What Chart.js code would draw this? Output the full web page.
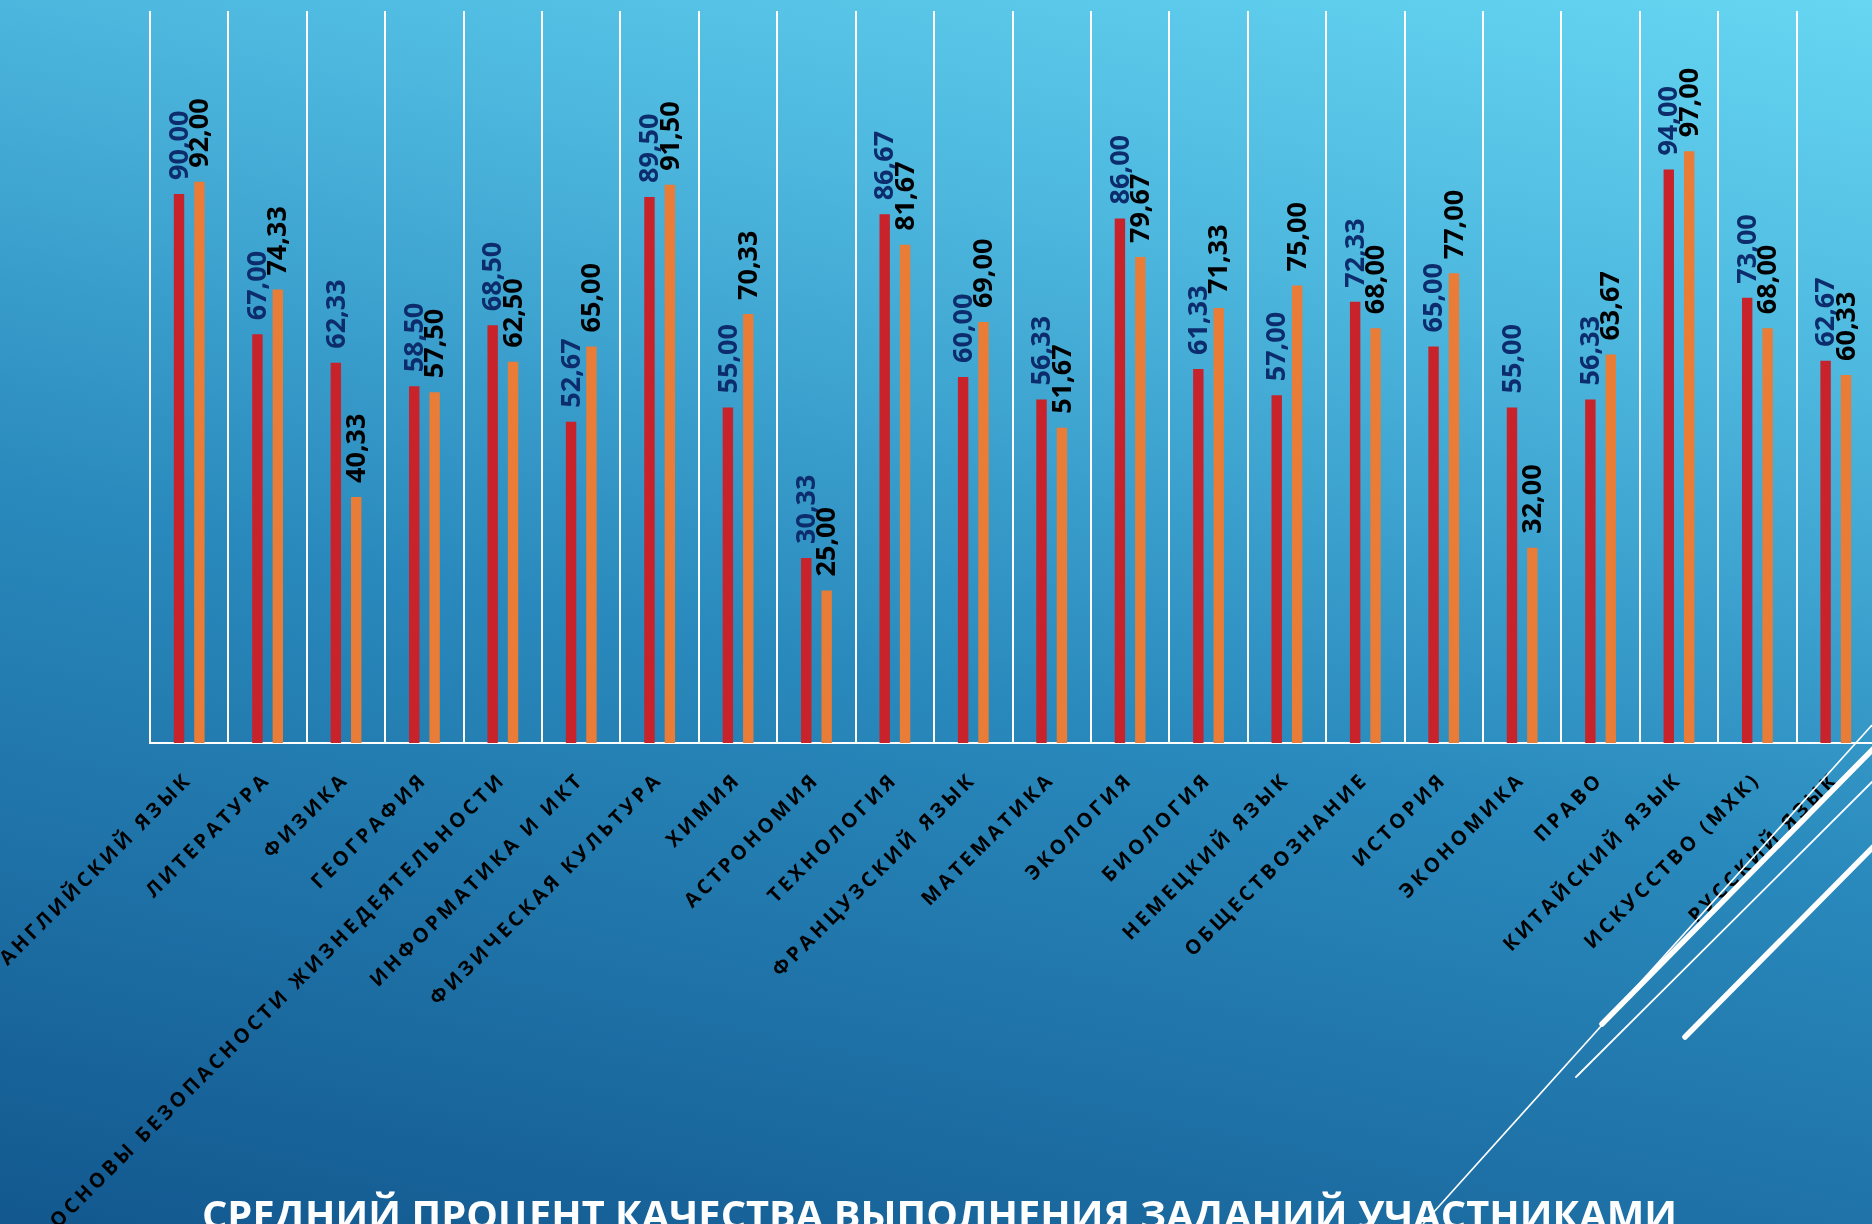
<!DOCTYPE html>
<html><head><meta charset="utf-8">
<script src="https://cdn.jsdelivr.net/npm/chart.js@4/dist/chart.umd.min.js"></script>
<style>
html,body{margin:0;padding:0;width:1872px;height:1224px;overflow:hidden;}
body{position:relative;background:linear-gradient(12deg,#12588f 0%,#2a8abd 46%,#4db7de 76%,#66d6f2 100%);}
#wrap{position:absolute;left:0;top:0;width:1880px;height:1224px;}
#deco{position:absolute;left:0;top:0;pointer-events:none;}
</style></head><body>
<div id="wrap"><canvas id="c" width="1880" height="1224"></canvas></div>
<svg id="deco" width="1872" height="1224" xmlns="http://www.w3.org/2000/svg">
  <text id="ttl" x="202" y="1229" textLength="1475" lengthAdjust="spacingAndGlyphs" font-family="Open Sans" font-weight="700" font-size="40" fill="#ffffff"></text>
  <line x1="1423" y1="1224" x2="1872" y2="725" stroke="#fff" stroke-width="1.6"/>
  <line x1="1576" y1="1077" x2="1872" y2="782" stroke="#fff" stroke-width="1.8" stroke-linecap="round"/>
  <line x1="1602" y1="1024" x2="1880" y2="742" stroke="#fff" stroke-width="5.5" stroke-linecap="round"/>
  <line x1="1685" y1="1037" x2="1880" y2="840" stroke="#fff" stroke-width="5.5" stroke-linecap="round"/>
</svg>
<script>
const titleText = 'СРЕДНИЙ ПРОЦЕНТ КАЧЕСТВА ВЫПОЛНЕНИЯ ЗАДАНИЙ УЧАСТНИКАМИ';
const categories = [
  'АНГЛИЙСКИЙ ЯЗЫК','ЛИТЕРАТУРА','ФИЗИКА','ГЕОГРАФИЯ',
  'ОСНОВЫ БЕЗОПАСНОСТИ ЖИЗНЕДЕЯТЕЛЬНОСТИ','ИНФОРМАТИКА И ИКТ','ФИЗИЧЕСКАЯ КУЛЬТУРА',
  'ХИМИЯ','АСТРОНОМИЯ','ТЕХНОЛОГИЯ','ФРАНЦУЗСКИЙ ЯЗЫК','МАТЕМАТИКА','ЭКОЛОГИЯ',
  'БИОЛОГИЯ','НЕМЕЦКИЙ ЯЗЫК','ОБЩЕСТВОЗНАНИЕ','ИСТОРИЯ','ЭКОНОМИКА','ПРАВО',
  'КИТАЙСКИЙ ЯЗЫК','ИСКУССТВО (МХК)','РУССКИЙ ЯЗЫК'
];
const seriesRed = [90.00,67.00,62.33,58.50,68.50,52.67,89.50,55.00,30.33,86.67,60.00,56.33,86.00,61.33,57.00,72.33,65.00,55.00,56.33,94.00,73.00,62.67];
const seriesOrange = [92.00,74.33,40.33,57.50,62.50,65.00,91.50,70.33,25.00,81.67,69.00,51.67,79.67,71.33,75.00,68.00,77.00,32.00,63.67,97.00,68.00,60.33];
const yMin = 0, yMax = 120;

document.getElementById('ttl').textContent = titleText;

const fmt = v => v.toFixed(2).replace('.', ',');

const labelStyles = [
  {color:'#0c2c6c', font:'700 27px "Open Sans"'},
  {color:'#000000', font:'700 27px "Open Sans"'}
];

const spacingPlugin = {
  id:'spacing',
  beforeDraw(chart){ chart.ctx.letterSpacing = '3.5px'; },
  afterDraw(chart){ chart.ctx.letterSpacing = '0px'; }
};

const valueLabels = {
  id:'valueLabels',
  afterDatasetsDraw(chart){
    const ctx = chart.ctx;
    chart.data.datasets.forEach((ds, di) => {
      const meta = chart.getDatasetMeta(di);
      meta.data.forEach((bar, i) => {
        ctx.save();
        ctx.letterSpacing = '0px';
        ctx.translate(bar.x + 1, bar.y - 14);
        ctx.rotate(-Math.PI/2);
        ctx.font = labelStyles[di].font;
        ctx.fillStyle = labelStyles[di].color;
        ctx.textAlign = 'left';
        ctx.textBaseline = 'middle';
        ctx.fillText(fmt(ds.data[i]), 0, 0);
        ctx.restore();
      });
    });
  }
};

new Chart(document.getElementById('c'), {
  type:'bar',
  data:{
    labels:categories,
    datasets:[
      {label:'Ряд 1', data:seriesRed, backgroundColor:'#c8222a', categoryPercentage:0.52, barPercentage:0.51},
      {label:'Ряд 2', data:seriesOrange, backgroundColor:'#e97c37', categoryPercentage:0.52, barPercentage:0.51}
    ]
  },
  options:{
    responsive:false,
    animation:false,
    layout:{padding:{left:150, top:11, right:5, bottom:0}},
    plugins:{legend:{display:false}, tooltip:{enabled:false}, title:{display:false}},
    scales:{
      x:{
        offset:true,
        grid:{color:'#ffffff', lineWidth:2, offset:true, drawTicks:false},
        border:{color:'#ffffff', width:2},
        ticks:{
          autoSkip:false, minRotation:45, maxRotation:45, padding:25,
          color:'#000000', font:{family:'Open Sans', size:20, weight:'700'}
        },
        afterFit(scale){ scale.height = 1224 - 743; }
      },
      y:{display:false, min:yMin, max:yMax}
    }
  },
  plugins:[spacingPlugin, valueLabels]
});
</script>
</body></html>
